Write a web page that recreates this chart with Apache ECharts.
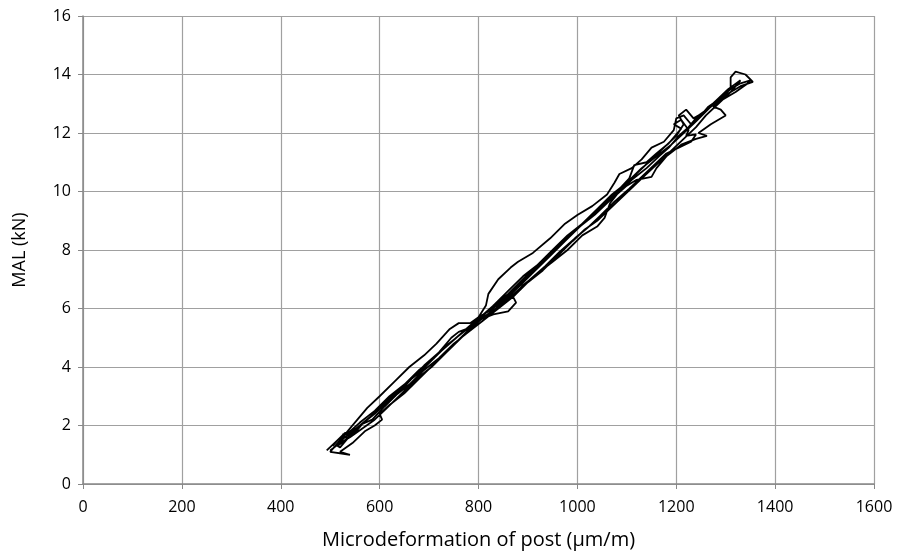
<!DOCTYPE html>
<html><head><meta charset="utf-8">
<script src="https://cdn.jsdelivr.net/npm/echarts@6/dist/echarts.min.js"></script>
<style>html,body{margin:0;padding:0;background:#fff}#c{width:902px;height:559px}</style>
</head><body><div id="c"></div>
<script>
// Microdeformation (µm/m) vs MAL (kN), recorded path (load/unload cycles)
const cycle1Up = [[493,1.15],[515,1.5],[540,1.8],[560,2.1],[590,2.5],[620,3.0],[650,3.4],[680,3.9],[710,4.3],[740,4.8],[770,5.2],[800,5.6],[830,6.1],[860,6.5],[890,7.0],[920,7.5],[950,7.9],[980,8.4],[1010,8.9],[1040,9.3],[1070,9.8],[1100,10.3],[1130,10.8],[1160,11.2],[1190,11.6],[1215,12.0],[1240,12.4],[1270,12.9],[1300,13.4],[1330,13.7],[1350,13.8]];
const cycle1Down = [[1345,13.7],[1320,13.4],[1290,13.1],[1275,12.9],[1290,12.8],[1300,12.6],[1270,12.3],[1245,12.0],[1262,11.9],[1240,11.8],[1210,11.6],[1180,11.2],[1160,10.8],[1150,10.5],[1120,10.4],[1100,10.2],[1080,9.9],[1066,9.6],[1055,9.1],[1040,8.8],[1010,8.5],[980,8.0],[950,7.6],[920,7.2],[890,6.8],[870,6.4],[876,6.2],[860,5.9],[830,5.8],[800,5.6],[770,5.1],[740,4.6],[710,4.1],[680,3.6],[650,3.1],[620,2.7],[600,2.4],[605,2.2],[590,2.0],[570,1.8],[545,1.4],[520,1.1],[540,1.0],[500,1.1]];
const cycle2Up = [[510,1.3],[530,1.7],[555,2.2],[575,2.6],[600,3.0],[630,3.5],[660,4.0],[690,4.4],[715,4.8],[742,5.3],[760,5.5],[783,5.5],[800,5.7],[815,6.1],[820,6.5],[840,7.0],[865,7.4],[880,7.6],[910,7.9],[945,8.4],[975,8.9],[1000,9.2],[1030,9.5],[1060,9.9],[1075,10.3],[1085,10.6],[1110,10.8],[1130,11.1],[1150,11.5],[1175,11.7],[1195,12.1],[1200,12.5],[1215,12.6],[1230,12.3],[1250,12.6],[1265,12.9],[1290,13.2],[1310,13.5],[1310,13.9],[1320,14.1],[1340,14.0],[1355,13.75]];
const cycle2Down = [[1330,13.6],[1300,13.3],[1270,12.9],[1245,12.6],[1225,12.2],[1205,11.9],[1195,11.7],[1185,11.5],[1165,11.2],[1140,10.8],[1110,10.4],[1085,10.0],[1060,9.6],[1035,9.2],[1005,8.8],[975,8.3],[945,7.8],[915,7.3],[885,6.8],[860,6.4],[835,6.0],[810,5.7],[790,5.4],[765,5.0],[735,4.5],[705,4.0],[675,3.6],[645,3.1],[615,2.6],[590,2.2],[565,1.9],[540,1.6],[520,1.4],[500,1.15]];
const cycle3Up = [[505,1.2],[530,1.6],[560,2.0],[590,2.4],[620,2.9],[650,3.4],[680,3.8],[710,4.3],[740,4.8],[770,5.2],[800,5.65],[830,6.1],[860,6.6],[890,7.1],[920,7.5],[950,8.0],[980,8.5],[1010,8.9],[1040,9.4],[1070,9.9],[1100,10.3],[1125,10.7],[1150,11.1],[1175,11.5],[1200,11.9],[1215,12.3],[1205,12.6],[1220,12.8],[1235,12.5],[1255,12.7],[1280,13.1],[1305,13.5],[1330,13.8]];
const cycle3Down = [[1310,13.4],[1285,13.0],[1260,12.6],[1240,12.2],[1215,11.8],[1190,11.4],[1165,11.0],[1140,10.6],[1115,10.2],[1090,9.8],[1065,9.4],[1040,9.0],[1015,8.7],[990,8.3],[960,7.8],[930,7.3],[900,6.9],[870,6.4],[840,6.0],[810,5.6],[780,5.2],[750,4.8],[720,4.3],[690,3.9],[660,3.4],[630,3.0],[600,2.6],[575,2.2],[555,1.9],[530,1.5],[515,1.3]];
const cycle4Up = [[520,1.25],[535,1.55],[525,1.7],[550,1.75],[565,2.05],[585,2.2],[610,2.65],[640,3.15],[665,3.6],[695,4.1],[725,4.55],[755,5.0],[785,5.45],[805,5.75],[825,5.95],[850,6.3],[880,6.75],[905,7.2],[935,7.7],[965,8.2],[995,8.65],[1025,9.1],[1050,9.5],[1080,10.0],[1105,10.45],[1115,10.9],[1140,11.0],[1160,11.3],[1185,11.65],[1210,12.15],[1195,12.3],[1210,12.45],[1225,12.1],[1220,11.9],[1240,11.95],[1230,11.7],[1205,11.5],[1180,11.3]];
const cycle4Down = [[1155,10.9],[1130,10.5],[1105,10.1],[1075,9.65],[1045,9.15],[1020,8.75],[995,8.4],[965,7.95],[935,7.45],[905,7.0],[875,6.55],[845,6.1],[815,5.75],[795,5.5],[775,5.3],[760,5.2],[745,5.0],[720,4.5],[690,4.05],[660,3.55],[630,3.1],[605,2.7],[585,2.35],[560,2.0],[545,1.7],[530,1.75],[515,1.5],[505,1.3]];
const xTicks = [0,200,400,600,800,1000,1200,1400,1600];
const yTicks = [0,2,4,6,8,10,12,14,16];

const path = [].concat(cycle1Up, cycle1Down, cycle2Up, cycle2Down, cycle3Up, cycle3Down, cycle4Up, cycle4Down);
const font = '"Open Sans", sans-serif';
const chart = echarts.init(document.getElementById('c'), null, {renderer:'canvas'});
chart.setOption({
  animation:false,
  grid:{left:83, right:28, top:16, bottom:75, containLabel:false},
  xAxis:{type:'value', min:xTicks[0], max:xTicks[xTicks.length-1], interval:200,
    name:'Microdeformation of post (µm/m)', nameLocation:'middle', nameGap:46,
    nameTextStyle:{fontFamily:font, fontSize:20, color:'#000'},
    axisLine:{show:true, lineStyle:{color:'#888', width:1.5}},
    axisTick:{show:true, length:5, lineStyle:{color:'#888'}},
    axisLabel:{fontFamily:font, fontSize:16, color:'#000', margin:15, formatter:v=>String(v)},
    splitLine:{show:true, lineStyle:{color:'#a0a0a0', width:1.2}}},
  yAxis:{type:'value', min:yTicks[0], max:yTicks[yTicks.length-1], interval:2,
    name:'MAL (kN)', nameLocation:'middle', nameGap:54,
    nameTextStyle:{fontFamily:font, fontSize:18, color:'#000'},
    axisLine:{show:true, lineStyle:{color:'#888', width:1.5}},
    axisTick:{show:true, length:5, lineStyle:{color:'#888'}},
    axisLabel:{fontFamily:font, fontSize:16, color:'#000', margin:12},
    splitLine:{show:true, lineStyle:{color:'#a0a0a0', width:1.2}}},
  series:[{type:'line', data:path, showSymbol:false, smooth:false,
    lineStyle:{color:'#000', width:1.8}}]
});
</script></body></html>
